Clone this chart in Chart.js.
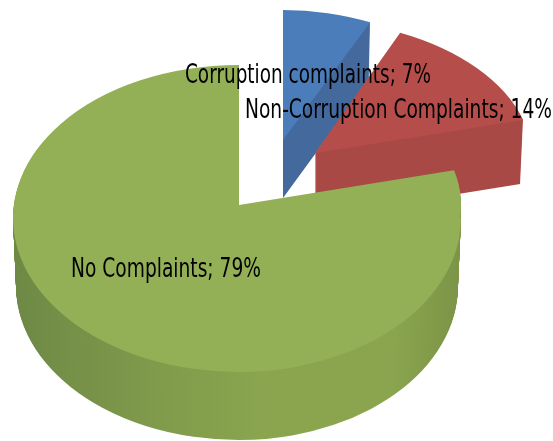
<!DOCTYPE html>
<html>
<head>
<meta charset="utf-8">
<script src="https://cdn.jsdelivr.net/npm/chart.js@4"></script>
<style>
    html, body { margin: 0; padding: 0; background: #fff; overflow: hidden; }
    canvas { display: block; }
</style>
</head>
<body>
<canvas id="pie" width="553" height="441"></canvas>
<script>
const categories = ['Corruption complaints', 'Non-Corruption Complaints', 'No Complaints'];
const shares = [7, 14, 79];
const topColors = ['#4a7dba', '#b54e4b', '#94b056'];
const wallColors = [
    [[0, '#44699c'], [1, '#44699c']],
    [[0, '#a94946'], [1, '#a94946']],
    [[0, '#6e8945'], [0.3, '#7f9a4b'], [0.55, '#8aa54e'], [0.85, '#8aa54e'], [1, '#7b9447']],
];

// how each slice sits in the tilted view. panes are pieces of the face, the big
// green one has its apex above the middle of its ellipse because of the perspective.
// pane: clip left, top, right, bottom (relative to the apex), centre drop, half axes
const sliceViews = [
    { ax: 283, ay: 140, wall: 58, skew: 0, panes: [[-553, -441, 553, 441, 0, 205, 130]] },
    { ax: 315, ay: 153, wall: 64, skew: 0.06, panes: [[-553, -441, 553, 441, 0, 217, 133]] },
    {
        ax: 239, ay: 205, wall: 68, skew: 0,
        panes: [
            [-553, -441, 0, 13, 13, 226, 153],
            [-553, 13, 0, 441, 13, 226, 154],
            [0, -441, 553, 13, 0, 222, 140],
            [0, 13, 553, 441, 13, 222, 154],
        ],
    },
];
const labelBoxes = [
    { x: 185, width: 246, baseline: 83 },
    { x: 245, width: 307, baseline: 118 },
    { x: 71, width: 190, baseline: 277 },
];

function drawFace(ctx, arc, view, drop, fill) {
    const R = arc.outerRadius;
    const shrink = view.wall ? 3 * drop / view.wall : 0;
    const saved = arc.options;
    arc.options = Object.assign(Object.create(saved), { backgroundColor: fill });
    view.panes.forEach(([x0, y0, x1, y1, cy, rx, ry]) => {
        ctx.save();
        ctx.beginPath();
        ctx.rect(view.ax + x0, view.ay + drop + y0, x1 - x0, y1 - y0);
        ctx.clip();
        ctx.translate(view.ax, view.ay + drop + cy);
        ctx.transform(1, 0, view.skew, 1, 0, 0);
        ctx.scale((rx - shrink) / R, ry / R);
        ctx.translate(-arc.x, -arc.y);
        arc.draw(ctx);
        ctx.restore();
    });
    arc.options = saved;
}

const tiltedPie = {
    id: 'tiltedPie',
    beforeDatasetsDraw(chart) {
        const ctx = chart.ctx;
        chart.getDatasetMeta(0).data.forEach((arc, i) => {
            const view = sliceViews[i];
            const R = arc.outerRadius;
            const grad = ctx.createLinearGradient(arc.x - R, 0, arc.x + R, 0);
            wallColors[i].forEach(([at, color]) => grad.addColorStop(at, color));
            for (let drop = view.wall; drop > 0; drop--) {
                drawFace(ctx, arc, view, drop, grad);
            }
            drawFace(ctx, arc, view, 0, topColors[i]);
        });
        return false;
    },
    afterDraw(chart) {
        const ctx = chart.ctx;
        ctx.save();
        ctx.fillStyle = '#000';
        ctx.textBaseline = 'alphabetic';
        ctx.font = '26px "DejaVu Sans"';
        categories.forEach((name, i) => {
            const text = `${name}; ${shares[i]}%`;
            const box = labelBoxes[i];
            ctx.save();
            ctx.translate(box.x, box.baseline);
            ctx.scale(box.width / ctx.measureText(text).width, 1);
            ctx.fillText(text, 0, 0);
            ctx.restore();
        });
        ctx.restore();
    },
};

new Chart(document.getElementById('pie'), {
    type: 'pie',
    data: {
        labels: categories,
        datasets: [{ data: shares, backgroundColor: topColors, borderWidth: 0 }],
    },
    options: {
        responsive: false,
        animation: false,
        layout: { padding: 0 },
        plugins: { legend: { display: false }, tooltip: { enabled: false } },
    },
    plugins: [tiltedPie],
});
</script>
</body>
</html>
